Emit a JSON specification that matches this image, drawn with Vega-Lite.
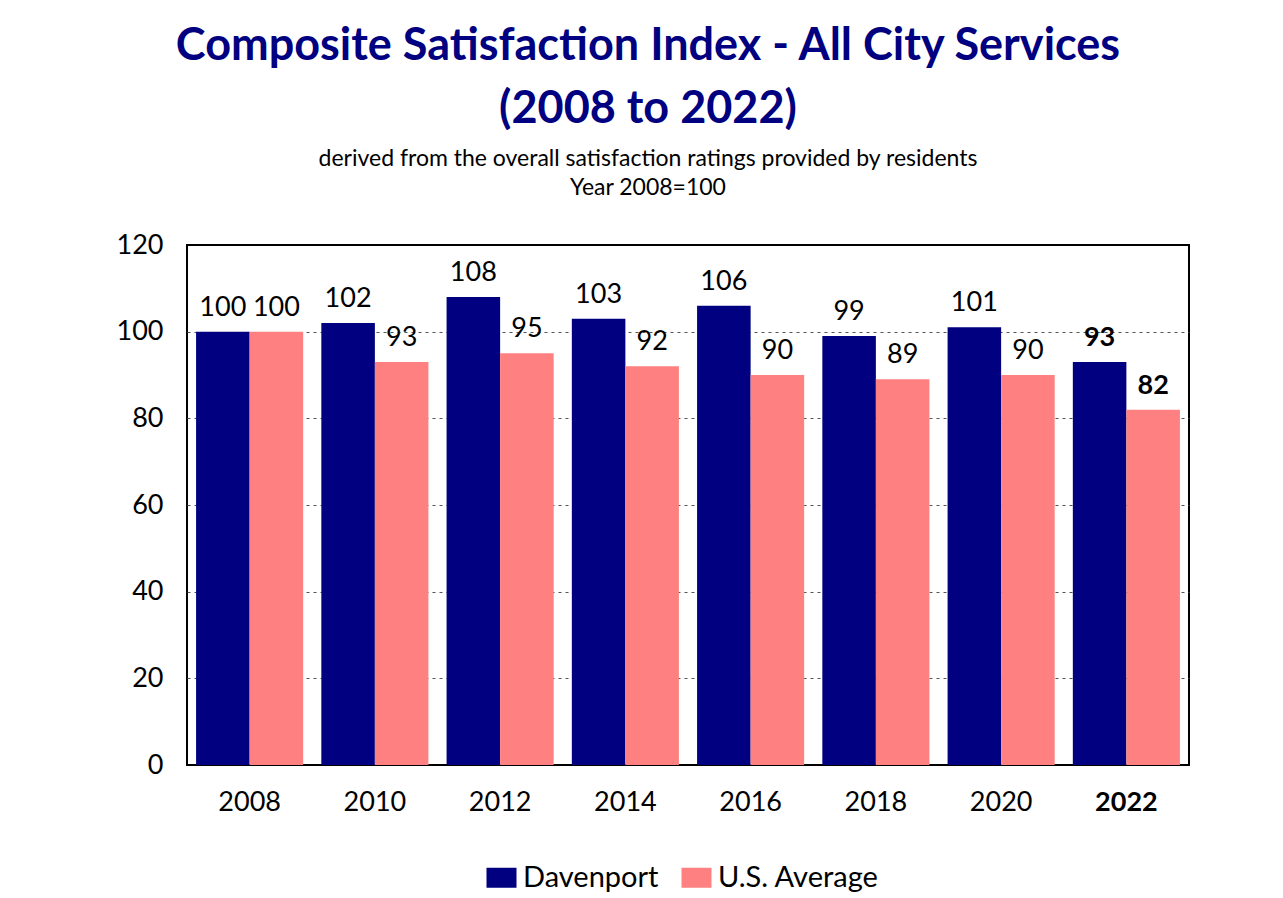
{
  "$schema": "https://vega.github.io/schema/vega-lite/v6.json",
  "width": 1002,
  "height": 520,
  "autosize": {"type": "none"},
  "padding": {"left": 187, "top": 245, "right": 94, "bottom": 133},
  "background": "white",
  "config": {
    "font": "Lato",
    "view": {"stroke": "black", "strokeWidth": 2}
  },
  "title": {
    "text": ["Composite Satisfaction Index - All City Services", "(2008 to 2022)"],
    "subtitle": ["derived from the overall satisfaction ratings provided by residents", "Year 2008=100"],
    "font": "Lato",
    "fontSize": 45,
    "fontWeight": "bold",
    "color": "#000080",
    "lineHeight": 63,
    "subtitleFont": "Lato",
    "subtitleFontSize": 23,
    "subtitleLineHeight": 29,
    "subtitleColor": "black",
    "subtitlePadding": 16,
    "anchor": "middle",
    "frame": "group",
    "dx": -40,
    "offset": 31
  },
  "data": {
    "values": [
      {"year": "2008", "series": "Davenport", "value": 100},
      {"year": "2008", "series": "U.S. Average", "value": 100},
      {"year": "2010", "series": "Davenport", "value": 102},
      {"year": "2010", "series": "U.S. Average", "value": 93},
      {"year": "2012", "series": "Davenport", "value": 108},
      {"year": "2012", "series": "U.S. Average", "value": 95},
      {"year": "2014", "series": "Davenport", "value": 103},
      {"year": "2014", "series": "U.S. Average", "value": 92},
      {"year": "2016", "series": "Davenport", "value": 106},
      {"year": "2016", "series": "U.S. Average", "value": 90},
      {"year": "2018", "series": "Davenport", "value": 99},
      {"year": "2018", "series": "U.S. Average", "value": 89},
      {"year": "2020", "series": "Davenport", "value": 101},
      {"year": "2020", "series": "U.S. Average", "value": 90},
      {"year": "2022", "series": "Davenport", "value": 93},
      {"year": "2022", "series": "U.S. Average", "value": 82}
    ]
  },
  "encoding": {
    "x": {
      "field": "year",
      "type": "nominal",
      "scale": {"paddingInner": 0.145, "paddingOuter": 0.0725},
      "axis": {
        "title": null,
        "labelAngle": 0,
        "labelFont": "Lato",
        "labelFontSize": 27,
        "labelColor": "black",
        "labelPadding": 24,
        "labelFontWeight": {"condition": {"test": "datum.value === '2022'", "value": "bold"}, "value": "normal"},
        "ticks": false,
        "domain": false,
        "grid": false
      }
    },
    "xOffset": {"field": "series", "type": "nominal", "scale": {"paddingInner": 0, "paddingOuter": 0}},
    "y": {
      "field": "value",
      "type": "quantitative",
      "scale": {"domain": [0, 120], "nice": false},
      "axis": {
        "title": null,
        "values": [0, 20, 40, 60, 80, 100, 120],
        "labelFont": "Lato",
        "labelFontSize": 27,
        "labelColor": "black",
        "labelPadding": 24,
        "ticks": false,
        "domain": false,
        "grid": true,
        "gridColor": "#555555",
        "gridDash": [3, 4],
        "gridWidth": 1,
        "gridOpacity": {"condition": {"test": "datum.value === 0 || datum.value === 120", "value": 0}, "value": 1}
      }
    }
  },
  "layer": [
    {
      "mark": {"type": "bar"},
      "encoding": {
        "color": {
          "field": "series",
          "type": "nominal",
          "scale": {"domain": ["Davenport", "U.S. Average"], "range": ["#000080", "#FF8080"]},
          "legend": {
            "title": null,
            "orient": "none",
            "direction": "horizontal",
            "legendX": 300,
            "legendY": 618,
            "padding": 0,
            "labelFont": "Lato",
            "labelFontSize": 29,
            "labelColor": "black",
            "labelOffset": 7,
            "labelLimit": 400,
            "columnPadding": 22,
            "symbolType": "M-1.5,-1L1.5,-1L1.5,1L-1.5,1Z",
            "symbolSize": 400,
            "symbolStrokeWidth": 0,
            "symbolOpacity": 1
          }
        }
      }
    },
    {
      "transform": [{"filter": "datum.year !== '2022'"}],
      "mark": {"type": "text", "baseline": "alphabetic", "dy": -16, "fontSize": 27, "font": "Lato", "color": "black"},
      "encoding": {
        "text": {"field": "value", "type": "quantitative"}
      }
    },
    {
      "transform": [{"filter": "datum.year === '2022'"}],
      "mark": {"type": "text", "baseline": "alphabetic", "dy": -16, "fontSize": 27, "font": "Lato", "fontWeight": "bold", "color": "black"},
      "encoding": {
        "text": {"field": "value", "type": "quantitative"}
      }
    }
  ]
}
